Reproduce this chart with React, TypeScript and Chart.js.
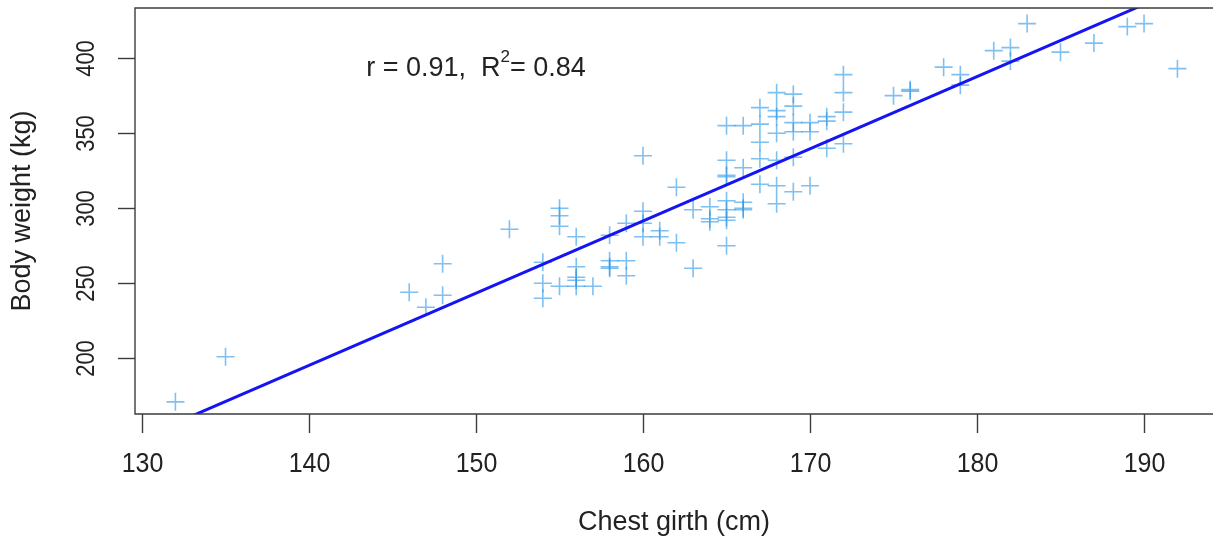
import React, { useEffect, useRef } from "react";
import { Chart, registerables } from "chart.js";

Chart.register(...registerables);

// Chest girth (cm) of each animal
const chestGirth = [
  132, 135, 146, 147, 148, 148, 152,
  154, 154, 154,
  155, 155, 155, 155,
  156, 156, 156, 156, 156,
  157,
  158, 158, 158, 158,
  159, 159, 159,
  160, 160, 160, 160,
  161, 161,
  162, 162,
  163, 163,
  164, 164, 164,
  165, 165, 165, 165, 165, 165, 165, 165, 165,
  166, 166, 166, 166, 166,
  167, 167, 167, 167, 167,
  168, 168, 168, 168, 168, 168, 168,
  169, 169, 169, 169, 169, 169,
  170, 170, 170,
  171, 171, 171,
  172, 172, 172, 172,
  175, 176, 176, 178, 179, 179, 181, 182, 182, 183, 185, 187, 189, 190, 192,
];

// Body weight (kg) of each animal
const bodyWeight = [
  171, 201, 244, 234, 263, 242, 286,
  264, 250, 240,
  300, 295, 288, 248,
  281, 261, 254, 252, 248,
  248,
  282, 265, 261, 260,
  290, 265, 255,
  335, 298, 290, 281,
  285, 281,
  314, 277,
  299, 260,
  301, 293, 291,
  355, 332, 322, 321, 305, 299, 294, 292, 275,
  355, 327, 304, 300, 299,
  367, 356, 344, 333, 316,
  377, 365, 361, 350, 332, 315, 303,
  376, 368, 357, 351, 334, 311,
  357, 351, 315,
  361, 358, 340,
  389, 377, 364, 343,
  375, 379, 378, 394, 389, 382, 405, 407, 398, 423, 404, 410, 421, 423, 393,
];

const xTickValues = [130, 140, 150, 160, 170, 180, 190];
const yTickValues = [200, 250, 300, 350, 400];
const xLimits = [129.58, 194.13];
const yLimits = [162.9, 433.4];
const fitIntercept = -478.1;
const fitSlope = 4.81;
const xTitle = "Chest girth (cm)";
const yTitle = "Body weight (kg)";
const statX = 150;
const statY = 395;

const FONT = '"Liberation Sans", Arial, sans-serif';

function drawText(
  ctx: CanvasRenderingContext2D,
  text: string,
  x: number,
  y: number,
  size: number,
  rotate: boolean,
  stretch = 1
) {
  ctx.save();
  ctx.translate(x, y);
  if (rotate) ctx.rotate(-Math.PI / 2);
  ctx.scale(1, stretch);
  ctx.font = `${size}px ${FONT}`;
  ctx.textAlign = "center";
  ctx.textBaseline = "middle";
  ctx.fillText(text, 0, 0);
  ctx.restore();
}

const axesPlugin = {
  id: "rAxes",
  afterDraw(chart: any) {
    const ctx = chart.ctx as CanvasRenderingContext2D;
    const { left, top, right, bottom } = chart.chartArea;
    const xs = chart.scales.x;
    const ys = chart.scales.y;
    ctx.save();
    ctx.strokeStyle = "#3c3c3c";
    ctx.lineWidth = 1.4;
    ctx.beginPath();
    ctx.moveTo(right + 2, top);
    ctx.lineTo(left, top);
    ctx.lineTo(left, bottom);
    ctx.lineTo(right + 2, bottom);
    ctx.stroke();

    ctx.fillStyle = "#222";
    // x ticks
    for (const v of xTickValues) {
      const px = Math.round(xs.getPixelForValue(v)) + 0.5;
      ctx.beginPath();
      ctx.moveTo(px, bottom);
      ctx.lineTo(px, bottom + 19);
      ctx.stroke();
      drawText(ctx, String(v), px, bottom + 51, 25, false, 1.08);
    }
    // y ticks
    for (const v of yTickValues) {
      const py = Math.round(ys.getPixelForValue(v)) + 0.5;
      ctx.beginPath();
      ctx.moveTo(left - 17, py);
      ctx.lineTo(left, py);
      ctx.stroke();
      drawText(ctx, String(v), left - 48, py, 22, true, 1.2);
    }
    // titles
    drawText(ctx, xTitle, (left + right) / 2, bottom + 109, 27, false, 1.0);
    drawText(ctx, yTitle, 23, (top + bottom) / 2, 27, true, 1.0);

    // statistics annotation
    const p1 = "r = 0.91,  R";
    const sup = "2";
    const p2 = "= 0.84";
    ctx.font = `27px ${FONT}`;
    const w1 = ctx.measureText(p1).width;
    const w3 = ctx.measureText(p2).width;
    ctx.font = `17px ${FONT}`;
    const w2 = ctx.measureText(sup).width;
    const total = w1 + w2 + w3;
    const cx = xs.getPixelForValue(statX);
    const cy = ys.getPixelForValue(statY);
    let sx = cx - total / 2;
    ctx.textAlign = "left";
    ctx.textBaseline = "alphabetic";
    ctx.font = `27px ${FONT}`;
    ctx.fillText(p1, sx, cy + 10);
    sx += w1;
    ctx.font = `17px ${FONT}`;
    ctx.fillText(sup, sx, cy - 4);
    sx += w2;
    ctx.font = `27px ${FONT}`;
    ctx.fillText(p2, sx, cy + 10);
    ctx.restore();
  },
};

export default function App() {
  const ref = useRef<HTMLCanvasElement>(null);
  useEffect(() => {
    if (!ref.current) return;
    const points = chestGirth.map((x, i) => ({ x, y: bodyWeight[i] }));
    const fit = xLimits.map((x) => ({ x, y: fitIntercept + fitSlope * x }));
    const chart = new Chart(ref.current, {
      type: "scatter",
      data: {
        datasets: [
          {
            type: "line",
            data: fit,
            borderColor: "#1414f5",
            borderWidth: 3,
            pointRadius: 0,
            fill: false,
          } as any,
          {
            data: points,
            pointStyle: "cross",
            pointRadius: 9,
            borderWidth: 1.6,
            borderColor: "rgba(40,150,230,0.6)",
            backgroundColor: "rgba(0,0,0,0)",
          },
        ],
      },
      options: {
        responsive: false,
        animation: false,
        devicePixelRatio: 1,
        layout: { autoPadding: false, padding: { left: 135, top: 8, right: 0, bottom: 134 } },
        plugins: { legend: { display: false }, tooltip: { enabled: false } },
        scales: {
          x: { type: "linear", min: xLimits[0], max: xLimits[1], display: false },
          y: { type: "linear", min: yLimits[0], max: yLimits[1], display: false },
        },
      },
      plugins: [axesPlugin],
    });
    return () => chart.destroy();
  }, []);
  return (
    <div style={{ position: "fixed", left: 0, top: 0, width: 1213, height: 548, background: "#fff" }}>
      <canvas ref={ref} width={1213} height={548} style={{ display: "block" }} />
    </div>
  );
}
